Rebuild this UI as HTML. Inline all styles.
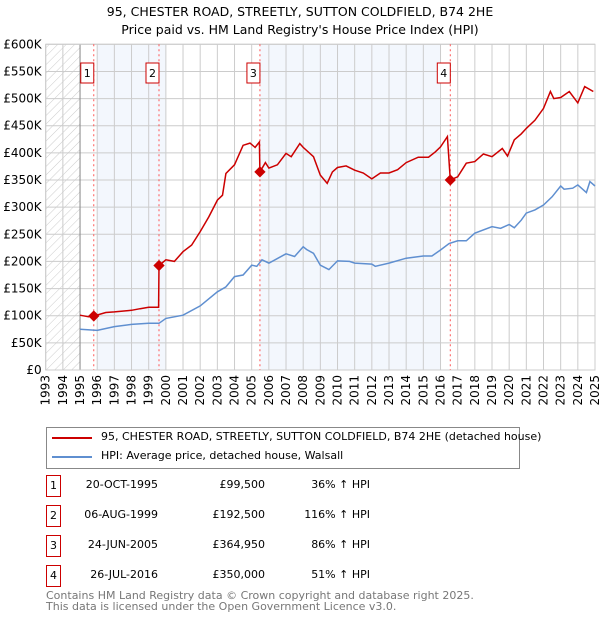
<!DOCTYPE html>
<html><head><meta charset="utf-8"><style>
body{margin:0;background:#fff;font-family:"DejaVu Sans","Liberation Sans",sans-serif;}
#wrap{position:relative;width:600px;height:620px;overflow:hidden;}
.t{position:absolute;font-size:12px;color:#000;white-space:nowrap}
.nb{position:absolute;width:13px;height:18px;border:1px solid #c00;font-size:11px;text-align:center;line-height:18px;background:#fff}
</style></head><body><div id="wrap">
<div class="t" style="left:0;width:600px;text-align:center;top:3px;font-size:12.5px;line-height:18px">95, CHESTER ROAD, STREETLY, SUTTON COLDFIELD, B74 2HE<br>Price paid vs. HM Land Registry's House Price Index (HPI)</div>
<svg id="chart" width="600" height="420" style="position:absolute;left:0;top:0" font-family="DejaVu Sans, Liberation Sans, sans-serif"></svg>
<div style="position:absolute;left:46px;top:427px;width:472px;height:40px;border:1px solid #888;">
<div style="position:absolute;left:5px;top:9px;width:40px;height:2px;background:#c00"></div>
<div class="t" style="left:54px;top:2px;font-size:11px">95, CHESTER ROAD, STREETLY, SUTTON COLDFIELD, B74 2HE (detached house)</div>
<div style="position:absolute;left:5px;top:28px;width:40px;height:2px;background:#5f8fd0"></div>
<div class="t" style="left:54px;top:21px;font-size:11px">HPI: Average price, detached house, Walsall</div>
</div>
<div id="table"></div>
<div class="t" style="left:46px;top:590px;font-size:11px;color:#777;line-height:11px">Contains HM Land Registry data © Crown copyright and database right 2025.<br>This data is licensed under the Open Government Licence v3.0.</div>
</div>
<script>
const hpiYears=[1995,1996,1997,1998,1999,1999.6,2000,2001,2002,2003,2003.5,2004,2004.5,2005,2005.3,2005.6,2006,2007,2007.5,2008,2008.2,2008.6,2009,2009.5,2010,2010.7,2011,2012,2012.2,2013,2014,2015,2015.5,2016,2016.5,2017,2017.5,2018,2019,2019.5,2020,2020.3,2020.7,2021,2021.5,2022,2022.5,2023,2023.2,2023.7,2024,2024.5,2024.7,2025];
const hpiValues=[75,73,80,84,86,86,95,101,118,144,153,172,175,193,191,203,197,214,209,227,222,215,193,185,201,200,197,195,191,197,206,210,210,221,233,238,238,252,264,261,268,262,276,289,295,304,319,339,333,335,341,327,347,339];
const propYears=[1995,1995.5,1995.8,1996.5,1997,1998,1998.5,1999,1999.58,1999.6,2000,2000.5,2001,2001.5,2002,2002.5,2003,2003.3,2003.5,2004,2004.5,2004.9,2005.2,2005.45,2005.48,2005.8,2006,2006.5,2007,2007.3,2007.8,2008,2008.6,2009,2009.4,2009.7,2010,2010.5,2011,2011.5,2012,2012.5,2013,2013.5,2014,2014.7,2015.3,2015.7,2016,2016.4,2016.57,2017,2017.5,2018,2018.5,2019,2019.6,2019.9,2020.3,2020.7,2021,2021.5,2022,2022.4,2022.6,2023,2023.5,2024,2024.4,2024.9];
const propValues=[101,98,99.5,106,107,110,113,115.5,115.5,192.5,203,200,218,230,255,282,313,322,362,378,414,418,410,420,365,382,372,378,399,393,417,410,393,359,344,365,373,376,368,363,352,363,363,369,382,392,392,402,411,430,350,356,381,384,398,393,408,394,424,435,445,460,482,513,500,502,513,492,522,513];
const saleYears=[1995.8,1999.6,2005.48,2016.57];
const saleValues=[99.5,192.5,364.95,350];
const saleLabels=["1","2","3","4"];
const saleDates=["20-OCT-1995","06-AUG-1999","24-JUN-2005","26-JUL-2016"];
const salePrices=["£99,500","£192,500","£364,950","£350,000"];
const salePcts=["36% ↑ HPI","116% ↑ HPI","86% ↑ HPI","51% ↑ HPI"];
const yTicks=[0,50,100,150,200,250,300,350,400,450,500,550,600];
const yTickLabels=["£0","£50K","£100K","£150K","£200K","£250K","£300K","£350K","£400K","£450K","£500K","£550K","£600K"];
const xTicks=[1993,1994,1995,1996,1997,1998,1999,2000,2001,2002,2003,2004,2005,2006,2007,2008,2009,2010,2011,2012,2013,2014,2015,2016,2017,2018,2019,2020,2021,2022,2023,2024,2025];
const bands=[[1996,2000],[2005.5,2016]];

const L=45.7,R=595,T=44.3,B=370;
const x=y=>L+(y-1993)/32*(R-L);
const yv=v=>B-v/600*(B-T);
const NS="http://www.w3.org/2000/svg";
const svg=document.getElementById('chart');
function mk(tag,attrs,parent){const e=document.createElementNS(NS,tag);for(const k in attrs)e.setAttribute(k,attrs[k]);(parent||svg).appendChild(e);return e;}
const defs=mk('defs',{});
const pat=mk('pattern',{id:'hatch',width:6,height:6,patternUnits:'userSpaceOnUse',patternTransform:'rotate(45)'},defs);
mk('line',{x1:0,y1:0,x2:0,y2:6,stroke:'#ccc','stroke-width':1},pat);
const hz=mk('rect',{x:L,y:T,width:x(1995)-L,height:B-T,fill:'url(#hatch)'});


bands.forEach(b=>{const r=mk('rect',{x:x(b[0]),y:T,width:x(b[1])-x(b[0]),height:B-T,fill:'#eef3fc',opacity:0.7});

});
yTicks.forEach((v,i)=>{const l=mk('line',{x1:L,x2:R,y1:yv(v),y2:yv(v),stroke:'#ccc','stroke-width':1});


const t=mk('text',{x:L-4,y:yv(v)+4,'text-anchor':'end','font-size':12,fill:'#000'});t.textContent=yTickLabels[i];

});
xTicks.forEach(yr=>{const l=mk('line',{x1:x(yr),x2:x(yr),y1:T,y2:B,stroke:'#ccc','stroke-width':1});


const t=mk('text',{x:0,y:0,'text-anchor':'end','font-size':12,fill:'#000',transform:`translate(${x(yr)+4},${B+5}) rotate(-90)`});t.textContent=yr;

});
mk('line',{x1:x(1995),x2:x(1995),y1:T,y2:B,stroke:'#888'});
mk('rect',{x:L,y:T,width:R-L,height:B-T,fill:'none',stroke:'#ccc'});
saleYears.forEach((s,i)=>{const l=mk('line',{x1:x(s),x2:x(s),y1:T,y2:B,stroke:'#f55','stroke-dasharray':'2,3','stroke-width':1});


const g=mk('g',{});


mk('rect',{x:x(s)-13,y:63,width:13,height:20,fill:'#fff',stroke:'#c00'},g);
const t=mk('text',{x:x(s)-6.5,y:77,'text-anchor':'middle','font-size':11},g);t.textContent=saleLabels[i];});
const pts=(xs,vs)=>xs.map((a,i)=>x(a).toFixed(1)+','+yv(vs[i]).toFixed(1)).join(' ');
const hl=mk('polyline',{points:pts(hpiYears,hpiValues),fill:'none',stroke:'#5f8fd0','stroke-width':1.5});


const pl=mk('polyline',{points:pts(propYears,propValues),fill:'none',stroke:'#c00','stroke-width':1.5});


saleYears.forEach((s,i)=>{const d=mk('rect',{x:x(s)-4,y:yv(saleValues[i])-4,width:8,height:8,fill:'#c00',transform:`rotate(45 ${x(s)} ${yv(saleValues[i])})`});

});
const tb=document.getElementById('table');
const rowY=[475,505,535,565];
saleLabels.forEach((lab,i)=>{
const nb=document.createElement('div');nb.className='nb';nb.style.left='46px';nb.style.top=rowY[i]+'px';nb.style.height='20px';nb.style.lineHeight='20px';nb.textContent=lab;

tb.appendChild(nb);
[[saleDates[i],158,'sale-date'],[salePrices[i],265,'sale-price'],[salePcts[i],370,'sale-hpi-change']].forEach(c=>{
const d=document.createElement('div');d.className='t';d.style.fontSize='11px';d.style.right=(600-c[1])+'px';d.style.top=(rowY[i]+3)+'px';d.textContent=c[0];

tb.appendChild(d);});
});
</script></body></html>
